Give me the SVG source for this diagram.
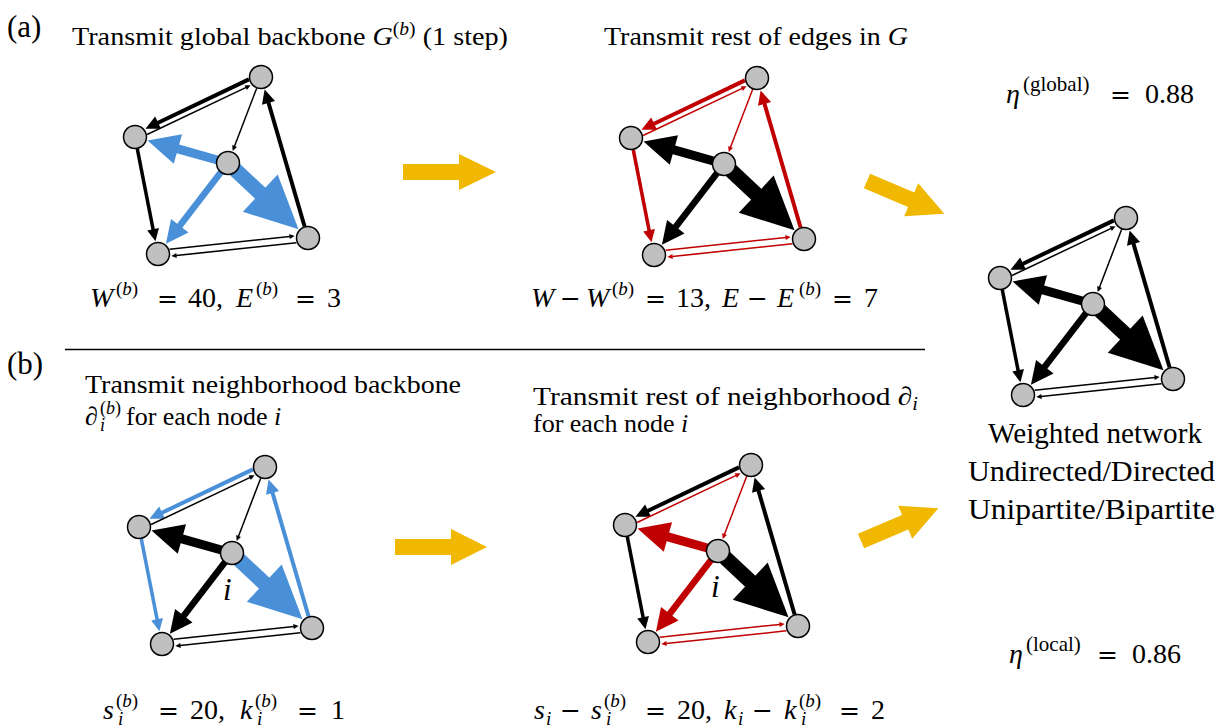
<svg xmlns="http://www.w3.org/2000/svg" width="1226" height="727" viewBox="0 0 1226 727">
<style>
.node{fill:#c0c0c0;stroke:#000;stroke-width:1.5}
.e{fill:none;stroke-linecap:butt}
.k{stroke:#000;marker-end:url(#hk)}
.b{stroke:#4a90d9;marker-end:url(#hb)}
.r{stroke:#c00000;marker-end:url(#hr)}
.w1{stroke-width:1.5}.w3{stroke-width:3.5}.w4{stroke-width:4}.w6{stroke-width:6.5}.w9{stroke-width:9}.w15{stroke-width:15}
.t{font-family:"Liberation Serif","DejaVu Serif",serif;fill:#000}
.it{font-style:italic}
.m{font-size:28px}
.sup{font-size:19px}
.op{font-family:"DejaVu Serif",serif;font-size:25px}
.yel{fill:#f0b800}
</style>
<defs>
<marker id="hk" viewBox="-0.5 -2 4 4" markerWidth="4" markerHeight="4" refX="0" refY="0" orient="auto" markerUnits="strokeWidth"><path d="M-0.3,-1.7L3.2,0L-0.3,1.7z" fill="#000"/></marker>
<marker id="hb" viewBox="-0.5 -2 4 4" markerWidth="4" markerHeight="4" refX="0" refY="0" orient="auto" markerUnits="strokeWidth"><path d="M-0.3,-1.7L3.2,0L-0.3,1.7z" fill="#4a90d9"/></marker>
<marker id="hr" viewBox="-0.5 -2 4 4" markerWidth="4" markerHeight="4" refX="0" refY="0" orient="auto" markerUnits="strokeWidth"><path d="M-0.3,-1.7L3.2,0L-0.3,1.7z" fill="#c00000"/></marker>
</defs>

<!-- Graph (a) left -->
<g id="graph-a1" transform="translate(228,163)">
<g id="a1-connectors">
<path class="e k w4" d="M20.9,-83.6L-71,-39.8"/>
<path class="e k w1" d="M-80.9,-28.5L18.2,-75.6"/>
<path class="e k w1" d="M28.7,-74.8L6.4,-16.6"/>
<path class="e k w3" d="M-90.7,-14.2L-74.7,67.3"/>
<path class="e k w1" d="M-58.4,86.3L61.9,73.4"/>
<path class="e k w1" d="M68.4,79.8L-51.9,92.6"/>
<path class="e k w4" d="M76.6,63.5L40.2,-61.2"/>
<path class="e b w9" d="M0,0L-52.7,-14.8"/>
<path class="e b w6" d="M0,0L-49.4,64.2"/>
<path class="e b w15" d="M0,0L35.5,33.3"/>
</g>
<g id="a1-T"><circle class="node" cx="33" cy="-86" r="11.5"/></g>
<g id="a1-L"><circle class="node" cx="-93" cy="-26" r="11.5"/></g>
<g id="a1-C"><circle class="node" cx="0" cy="0" r="11.5"/></g>
<g id="a1-BL"><circle class="node" cx="-70" cy="91" r="11.5"/></g>
<g id="a1-BR"><circle class="node" cx="80" cy="75" r="11.5"/></g>
</g>

<!-- Graph (a) middle -->
<g id="graph-a2" transform="translate(724,164)">
<g id="a2-connectors">
<path class="e r w4" d="M20.9,-83.6L-71,-39.8"/>
<path class="e r w1" d="M-80.9,-28.5L18.2,-75.6"/>
<path class="e r w1" d="M28.7,-74.8L6.4,-16.6"/>
<path class="e r w3" d="M-90.7,-14.2L-74.7,67.3"/>
<path class="e r w1" d="M-58.4,86.3L61.9,73.4"/>
<path class="e r w1" d="M68.4,79.8L-51.9,92.6"/>
<path class="e r w4" d="M76.6,63.5L40.2,-61.2"/>
<path class="e k w9" d="M0,0L-52.7,-14.8"/>
<path class="e k w6" d="M0,0L-49.4,64.2"/>
<path class="e k w15" d="M0,0L35.5,33.3"/>
</g>
<g id="a2-T"><circle class="node" cx="33" cy="-86" r="11.5"/></g>
<g id="a2-L"><circle class="node" cx="-93" cy="-26" r="11.5"/></g>
<g id="a2-C"><circle class="node" cx="0" cy="0" r="11.5"/></g>
<g id="a2-BL"><circle class="node" cx="-70" cy="91" r="11.5"/></g>
<g id="a2-BR"><circle class="node" cx="80" cy="75" r="11.5"/></g>
</g>

<!-- Graph right -->
<g id="graph-r" transform="translate(1093,304)">
<g id="r-connectors">
<path class="e k w4" d="M20.9,-83.6L-71,-39.8"/>
<path class="e k w1" d="M-80.9,-28.5L18.2,-75.6"/>
<path class="e k w1" d="M28.7,-74.8L6.4,-16.6"/>
<path class="e k w3" d="M-90.7,-14.2L-74.7,67.3"/>
<path class="e k w1" d="M-58.4,86.3L61.9,73.4"/>
<path class="e k w1" d="M68.4,79.8L-51.9,92.6"/>
<path class="e k w4" d="M76.6,63.5L40.2,-61.2"/>
<path class="e k w9" d="M0,0L-52.7,-14.8"/>
<path class="e k w6" d="M0,0L-49.4,64.2"/>
<path class="e k w15" d="M0,0L35.5,33.3"/>
</g>
<g id="r-T"><circle class="node" cx="33" cy="-86" r="11.5"/></g>
<g id="r-L"><circle class="node" cx="-93" cy="-26" r="11.5"/></g>
<g id="r-C"><circle class="node" cx="0" cy="0" r="11.5"/></g>
<g id="r-BL"><circle class="node" cx="-70" cy="91" r="11.5"/></g>
<g id="r-BR"><circle class="node" cx="80" cy="75" r="11.5"/></g>
</g>

<!-- Graph (b) left -->
<g id="graph-b1" transform="translate(232,553)">
<g id="b1-connectors">
<path class="e b w4" d="M20.9,-83.6L-71,-39.8"/>
<path class="e k w1" d="M-80.9,-28.5L18.2,-75.6"/>
<path class="e k w1" d="M28.7,-74.8L6.4,-16.6"/>
<path class="e b w3" d="M-90.7,-14.2L-74.7,67.3"/>
<path class="e k w1" d="M-58.4,86.3L61.9,73.4"/>
<path class="e k w1" d="M68.4,79.8L-51.9,92.6"/>
<path class="e b w4" d="M76.6,63.5L40.2,-61.2"/>
<path class="e k w9" d="M0,0L-52.7,-14.8"/>
<path class="e k w6" d="M0,0L-49.4,64.2"/>
<path class="e b w15" d="M0,0L35.5,33.3"/>
</g>
<g id="b1-T"><circle class="node" cx="33" cy="-86" r="11.5"/></g>
<g id="b1-L"><circle class="node" cx="-93" cy="-26" r="11.5"/></g>
<g id="b1-C"><circle class="node" cx="0" cy="0" r="11.5"/><text class="t it" x="-9" y="47" font-size="31">i</text></g>
<g id="b1-BL"><circle class="node" cx="-70" cy="91" r="11.5"/></g>
<g id="b1-BR"><circle class="node" cx="80" cy="75" r="11.5"/></g>
</g>

<!-- Graph (b) middle -->
<g id="graph-b2" transform="translate(718,551)">
<g id="b2-connectors">
<path class="e k w4" d="M20.9,-83.6L-71,-39.8"/>
<path class="e r w1" d="M-80.9,-28.5L18.2,-75.6"/>
<path class="e r w1" d="M28.7,-74.8L6.4,-16.6"/>
<path class="e k w3" d="M-90.7,-14.2L-74.7,67.3"/>
<path class="e r w1" d="M-58.4,86.3L61.9,73.4"/>
<path class="e r w1" d="M68.4,79.8L-51.9,92.6"/>
<path class="e k w4" d="M76.6,63.5L40.2,-61.2"/>
<path class="e r w9" d="M0,0L-52.7,-14.8"/>
<path class="e r w6" d="M0,0L-49.4,64.2"/>
<path class="e k w15" d="M0,0L35.5,33.3"/>
</g>
<g id="b2-T"><circle class="node" cx="33" cy="-86" r="11.5"/></g>
<g id="b2-L"><circle class="node" cx="-93" cy="-26" r="11.5"/></g>
<g id="b2-C"><circle class="node" cx="0" cy="0" r="11.5"/><text class="t it" x="-7" y="46" font-size="31">i</text></g>
<g id="b2-BL"><circle class="node" cx="-70" cy="91" r="11.5"/></g>
<g id="b2-BR"><circle class="node" cx="80" cy="75" r="11.5"/></g>
</g>

<!-- Yellow process arrows -->
<g id="flow-arrows">
<path class="yel" transform="translate(403,172)" d="M0,-8H56V-18L93,0L56,18V8H0z"/>
<path class="yel" transform="translate(867,181) rotate(23)" d="M0,-8H48V-18L84,0L48,18V8H0z"/>
<path class="yel" transform="translate(395,547)" d="M0,-8H56V-18L92,0L56,18V8H0z"/>
<path class="yel" transform="translate(861,541) rotate(-23)" d="M0,-8H48V-18L84,0L48,18V8H0z"/>
</g>

<!-- Divider -->
<line x1="65" y1="349.5" x2="925" y2="349.5" stroke="#000" stroke-width="1.5"/>

<!-- Labels -->
<text class="t" x="7" y="37" font-size="31">(a)</text>
<text class="t" x="7" y="374" font-size="31">(b)</text>

<text class="t" x="72" y="45" font-size="26" textLength="436" lengthAdjust="spacingAndGlyphs">Transmit global backbone <tspan class="it">G</tspan><tspan font-size="18" dy="-10">(<tspan class="it">b</tspan>)</tspan><tspan dy="10"> (1 step)</tspan></text>
<text class="t" x="604" y="45" font-size="26" textLength="304" lengthAdjust="spacingAndGlyphs">Transmit rest of edges in <tspan class="it">G</tspan></text>

<text class="t m"><tspan x="1006" y="103" class="it">η</tspan><tspan x="1023" y="91" font-size="21">(global)</tspan><tspan x="1110" y="103" class="op">=</tspan><tspan x="1145" y="103">0.88</tspan></text>

<text class="t m"><tspan x="90" y="307" class="it">W</tspan><tspan x="116" y="295" class="sup">(<tspan class="it">b</tspan>)</tspan><tspan x="157" y="307" class="op">=</tspan><tspan x="188" y="307">40,</tspan><tspan x="236" y="307" class="it">E</tspan><tspan x="256" y="295" class="sup">(<tspan class="it">b</tspan>)</tspan><tspan x="295" y="307" class="op">=</tspan><tspan x="327" y="307">3</tspan></text>

<text class="t m"><tspan x="531" y="307" class="it">W</tspan><tspan x="560" y="307" class="op">−</tspan><tspan x="586" y="307" class="it">W</tspan><tspan x="612" y="295" class="sup">(<tspan class="it">b</tspan>)</tspan><tspan x="645" y="307" class="op">=</tspan><tspan x="676" y="307">13,</tspan><tspan x="722" y="307" class="it">E</tspan><tspan x="747" y="307" class="op">−</tspan><tspan x="777" y="307" class="it">E</tspan><tspan x="799" y="295" class="sup">(<tspan class="it">b</tspan>)</tspan><tspan x="832" y="307" class="op">=</tspan><tspan x="864" y="307">7</tspan></text>

<text class="t" x="85" y="393" font-size="26" textLength="376" lengthAdjust="spacingAndGlyphs">Transmit neighborhood backbone</text>
<text class="t" font-size="26"><tspan x="85" y="425" class="it">∂</tspan><tspan x="100" y="414" font-size="18">(<tspan class="it">b</tspan>)</tspan><tspan x="100" y="431" font-size="18" class="it">i</tspan><tspan x="126" y="425">for each node </tspan><tspan class="it">i</tspan></text>

<text class="t" x="533" y="405" font-size="26" textLength="385" lengthAdjust="spacingAndGlyphs">Transmit rest of neighborhood <tspan class="it">∂</tspan><tspan class="it" font-size="18" dy="5">i</tspan></text>
<text class="t" x="533" y="432" font-size="26">for each node <tspan class="it">i</tspan></text>

<text class="t" x="988" y="443" font-size="29" textLength="214" lengthAdjust="spacingAndGlyphs">Weighted network</text>
<text class="t" x="968" y="481" font-size="29" textLength="247" lengthAdjust="spacingAndGlyphs">Undirected/Directed</text>
<text class="t" x="968" y="519" font-size="29" textLength="247" lengthAdjust="spacingAndGlyphs">Unipartite/Bipartite</text>

<text class="t m"><tspan x="1009" y="663" class="it">η</tspan><tspan x="1026" y="651" font-size="21">(local)</tspan><tspan x="1097" y="663" class="op">=</tspan><tspan x="1132" y="663">0.86</tspan></text>

<text class="t m"><tspan x="103" y="719" class="it">s</tspan><tspan x="116" y="707" class="sup">(<tspan class="it">b</tspan>)</tspan><tspan x="118" y="725" class="sup it">i</tspan><tspan x="158" y="719" class="op">=</tspan><tspan x="190" y="719">20,</tspan><tspan x="240" y="719" class="it">k</tspan><tspan x="255" y="707" class="sup">(<tspan class="it">b</tspan>)</tspan><tspan x="257" y="725" class="sup it">i</tspan><tspan x="297" y="719" class="op">=</tspan><tspan x="331" y="719">1</tspan></text>

<text class="t m"><tspan x="534" y="719" class="it">s</tspan><tspan x="546" y="725" class="sup it">i</tspan><tspan x="560" y="719" class="op">−</tspan><tspan x="591" y="719" class="it">s</tspan><tspan x="604" y="707" class="sup">(<tspan class="it">b</tspan>)</tspan><tspan x="606" y="725" class="sup it">i</tspan><tspan x="645" y="719" class="op">=</tspan><tspan x="677" y="719">20,</tspan><tspan x="724" y="719" class="it">k</tspan><tspan x="738" y="725" class="sup it">i</tspan><tspan x="752" y="719" class="op">−</tspan><tspan x="784" y="719" class="it">k</tspan><tspan x="799" y="707" class="sup">(<tspan class="it">b</tspan>)</tspan><tspan x="801" y="725" class="sup it">i</tspan><tspan x="839" y="719" class="op">=</tspan><tspan x="871" y="719">2</tspan></text>
</svg>
